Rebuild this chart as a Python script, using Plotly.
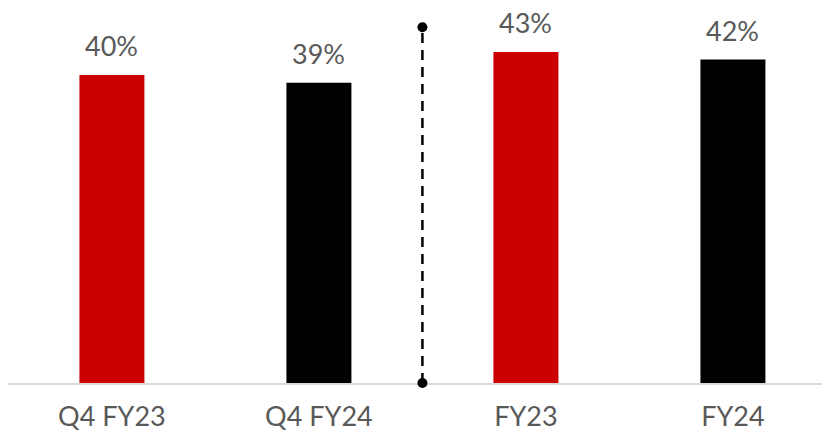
import plotly.graph_objects as go

categories = ["Q4 FY23", "Q4 FY24", "FY23", "FY24"]
values = [40, 39, 43, 42]
labels = ["40%", "39%", "43%", "42%"]
colors = ["#CC0000", "#000000", "#CC0000", "#000000"]

# divider between quarterly and full-year groups
divider_x = [1.5, 1.5]
divider_y = [0, 46.2]

xpos = list(range(len(categories)))
font_family = "Lato, Open Sans, sans-serif"

fig = go.Figure()

fig.add_trace(
    go.Bar(
        x=xpos,
        y=values,
        width=0.314,
        marker=dict(color=colors, line=dict(width=0)),
        showlegend=False,
        hoverinfo="skip",
    )
)

fig.add_trace(
    go.Scatter(
        x=divider_x,
        y=divider_y,
        mode="lines+markers",
        line=dict(color="#000000", width=2.5, dash="10px,7px"),
        marker=dict(color="#000000", size=10),
        showlegend=False,
        hoverinfo="skip",
        cliponaxis=False,
    )
)

for x, v, t in zip(xpos, values, labels):
    fig.add_annotation(
        x=x, y=v, text=t, showarrow=False,
        yanchor="bottom", yshift=11,
        font=dict(family=font_family, size=27, color="#595959"),
    )

# page body has an 8px margin, so the figure is sized to fit the window
fig.update_layout(
    width=822,
    height=423,
    margin=dict(l=0, r=0, t=0, b=48),
    paper_bgcolor="white",
    plot_bgcolor="white",
    xaxis=dict(
        range=[-0.502, 3.469],
        tickvals=xpos,
        ticktext=categories,
        showgrid=False,
        zeroline=False,
        showline=True,
        linecolor="#D9D9D9",
        linewidth=2,
        layer="below traces",
        ticks="",
        ticklabelstandoff=9,
        tickfont=dict(family=font_family, size=27, color="#595959"),
    ),
    yaxis=dict(
        range=[0, 48.7],
        visible=False,
        showgrid=False,
        zeroline=False,
    ),
)

fig.write_html("out.html")
